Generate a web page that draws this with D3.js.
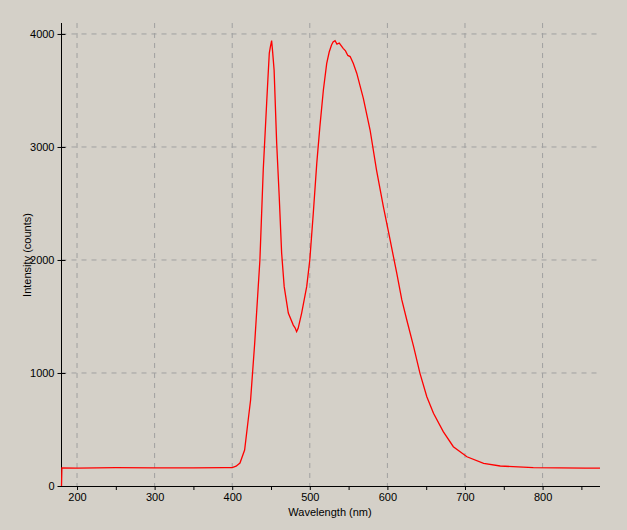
<!DOCTYPE html>
<html>
<head>
<meta charset="utf-8">
<script src="https://cdn.jsdelivr.net/npm/d3@7"></script>
<style>
body { margin: 0; background: #d4d0c8; }
text { font-family: "Liberation Sans", Arial, sans-serif; font-size: 11px; fill: #000; }
</style>
</head>
<body>
<svg width="627" height="530"></svg>
<script>
// spectrum
var wavelength = [180, 180.5, 200, 250, 300, 350, 390, 400, 405, 410, 416, 420.6, 423.7, 429, 435.7, 440, 444.4, 446, 447.8, 449, 450.8, 452, 454, 457.3, 460.6, 463.7, 467, 472.3, 478.7, 481, 483, 485, 489.5, 496, 500, 504.5, 509, 513, 517.5, 521.8, 525, 528, 530, 532.5, 535, 538, 543, 546, 549, 552, 556, 560.5, 569, 577.7, 586, 594.8, 603.5, 612, 618.6, 625, 633.8, 642, 650.8, 659.4, 672, 685, 702.5, 724, 745.4, 788, 855, 874];
var intensity = [0, 160, 158, 162, 160, 161, 162, 163, 175, 203, 318, 584, 761, 1265, 2000, 2796, 3389, 3600, 3830, 3880, 3941, 3850, 3680, 3035, 2560, 2062, 1764, 1530, 1424, 1400, 1366, 1395, 1530, 1764, 2000, 2413, 2857, 3180, 3504, 3740, 3840, 3903, 3930, 3941, 3910, 3920, 3873, 3850, 3810, 3800, 3740, 3653, 3430, 3150, 2796, 2472, 2177, 1885, 1646, 1469, 1233, 997, 790, 643, 481, 348, 259, 201, 177, 162, 159, 158];
var xTicks = [200, 300, 400, 500, 600, 700, 800];
var yTicks = [0, 1000, 2000, 3000, 4000];

var svg = d3.select("svg");
var x = d3.scaleLinear().domain([180, 874]).range([61.5, 600]);
var y = d3.scaleLinear().domain([0, 4097]).range([486, 23]);

// grid
svg.append("g").selectAll("line").data(xTicks).enter().append("line")
	.attr("x1", function(d) { return x(d); }).attr("x2", function(d) { return x(d); })
	.attr("y1", y(4097)).attr("y2", y(0))
	.attr("stroke", "#a0a0a0").attr("stroke-dasharray", "5,5");
svg.append("g").selectAll("line").data(yTicks.slice(1)).enter().append("line")
	.attr("x1", x(180)).attr("x2", x(874))
	.attr("y1", function(d) { return y(d); }).attr("y2", function(d) { return y(d); })
	.attr("stroke", "#a0a0a0").attr("stroke-dasharray", "5,5");

// axes
var xAxis = svg.append("g").attr("transform", "translate(0,486)")
	.call(d3.axisBottom(x).tickValues(d3.range(200, 874, 50)).tickSize(4)
		.tickFormat(function(d) { return d % 100 ? "" : d; }));
xAxis.select(".domain").attr("d", "M61.5,0.5H600");
var yAxis = svg.append("g").attr("transform", "translate(61.5,0)")
	.call(d3.axisLeft(y).tickValues(d3.range(0, 4097, 500)).tickSize(4)
		.tickFormat(function(d) { return d % 1000 ? "" : d; }));
yAxis.select(".domain").attr("d", "M0,23V486");
yAxis.selectAll(".tick line").attr("x2", function(d) { return d % 1000 ? -4 : 4; }).attr("x1", -4);
svg.selectAll(".tick text").style("font-size", "11px");
svg.selectAll(".domain, .tick line").attr("stroke", "#000");

svg.append("text").attr("x", 330).attr("y", 516).attr("text-anchor", "middle").text("Wavelength (nm)");
svg.append("text").attr("transform", "translate(31,255) rotate(-90)").attr("text-anchor", "middle").text("Intensity (counts)");

var line = d3.line().x(function(d, i) { return x(wavelength[i]); }).y(function(d) { return y(d); });
svg.append("path").datum(intensity).attr("d", line)
	.attr("fill", "none").attr("stroke", "#ff0000").attr("stroke-width", 1.3);
</script>
</body>
</html>
